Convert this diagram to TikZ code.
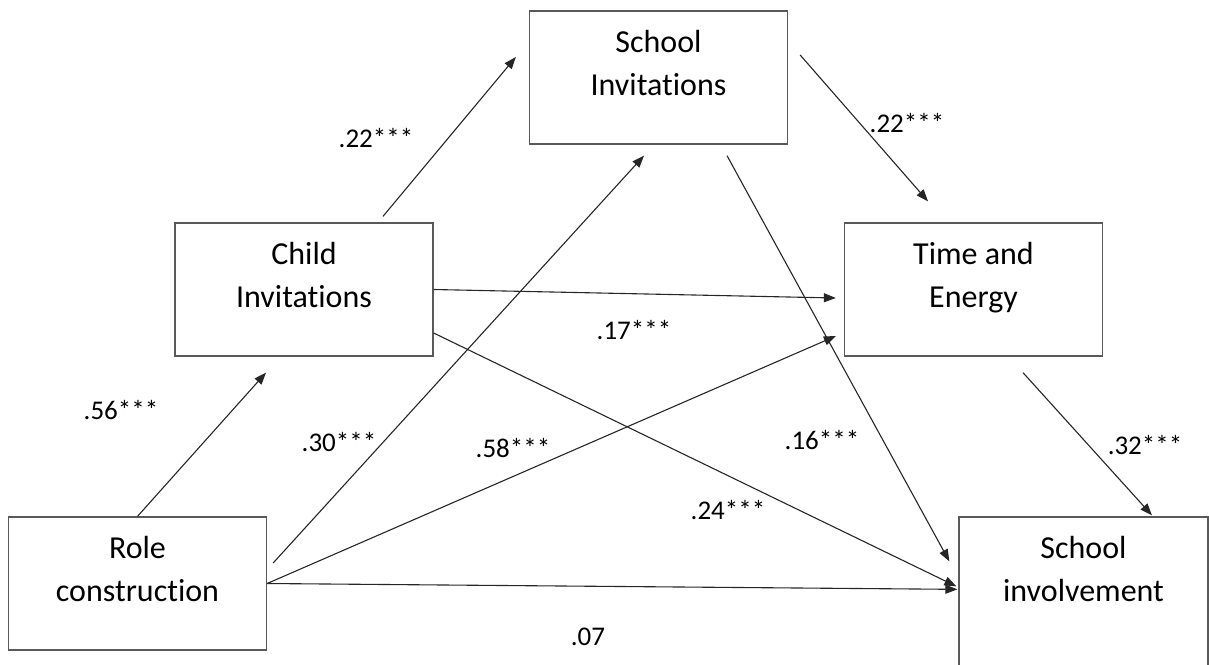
\documentclass[tikz,border=0pt]{standalone}
\usepackage{fontspec}
\setmainfont{Carlito}[Ligatures=NoCommon]
\usetikzlibrary{arrows.meta,positioning}

\begin{document}
\begin{tikzpicture}[x=1pt,y=-1pt,
  box/.style={draw=black!65, line width=1.3pt, minimum width=258pt, minimum height=133pt, inner sep=0pt},
  boxtext/.style={align=center, inner sep=0pt, font=\fontsize{32}{43}\selectfont},
  link/.style={draw=black!85, line width=1.1pt, -{Triangle[length=12pt,width=9pt]}},
  weight/.style={font=\fontsize{27}{32}\selectfont}]
\useasboundingbox (0,0) rectangle (1209,664);

\node[box] (role) at (137.5,583.5) {};
\node[box] (child) at (304,289.5) {};
\node[box] (sinv) at (658.5,77.5) {};
\node[box] (time) at (973.5,289.5) {};
\node[box, minimum width=249pt, minimum height=170pt] (inv) at (1083.5,602) {};

\node[boxtext, below=20pt of role.north] (roletxt) {Role\\construction};
\node[boxtext, below=20pt of child.north] (childtxt) {Child\\Invitations};
\node[boxtext, below=20pt of sinv.north] (sinvtxt) {School\\Invitations};
\node[boxtext, below=20pt of time.north] (timetxt) {Time and\\Energy};
\node[boxtext, below=20pt of inv.north] (invtxt) {School\\involvement};

\path[link] (role.north) -- ([xshift=-38pt,yshift=-16pt]child.south);
\path[link] ([xshift=79pt,yshift=6pt]child.north) -- ([xshift=-13pt,yshift=20.5pt]sinv.west);
\path[link] ([xshift=6pt,yshift=20.5pt]role.east) -- ([xshift=-14.5pt,yshift=-11pt]sinv.south);
\path[link] (role.east) -- ([xshift=-8pt,yshift=-46.5pt]time.west);
\path[link] (role.east) -- ([xshift=-1pt,yshift=-73pt]inv.north west);
\path[link] (child.east) -- ([xshift=-8pt,yshift=-8.5pt]time.west);
\path[link] ([yshift=-43.5pt]child.east) -- ([xshift=-2pt,yshift=-70pt]inv.north west);
\path[link] ([xshift=68.5pt,yshift=-11pt]sinv.south) -- ([xshift=-9pt,yshift=-45pt]inv.north west);
\path[link] ([xshift=12pt,yshift=22.5pt]sinv.east) -- ([xshift=-45.5pt,yshift=21pt]time.north);
\path[link] ([xshift=49.5pt,yshift=-16pt]time.south) -- ([xshift=68.5pt,yshift=1pt]inv.north);

\node[weight] (w56) at (121,410) {.56***};
\node[weight] (w22a) at (376,138) {.22***};
\node[weight] (w30) at (339,442) {.30***};
\node[weight] (w58) at (513,448) {.58***};
\node[weight] (w17) at (634,330) {.17***};
\node[weight] (w24) at (728,510) {.24***};
\node[weight] (w16) at (822,440) {.16***};
\node[weight] (w22b) at (907,123) {.22***};
\node[weight] (w32) at (1145,445) {.32***};
\node[weight] (w07) at (588,637) {.07};
\end{tikzpicture}
\end{document}
